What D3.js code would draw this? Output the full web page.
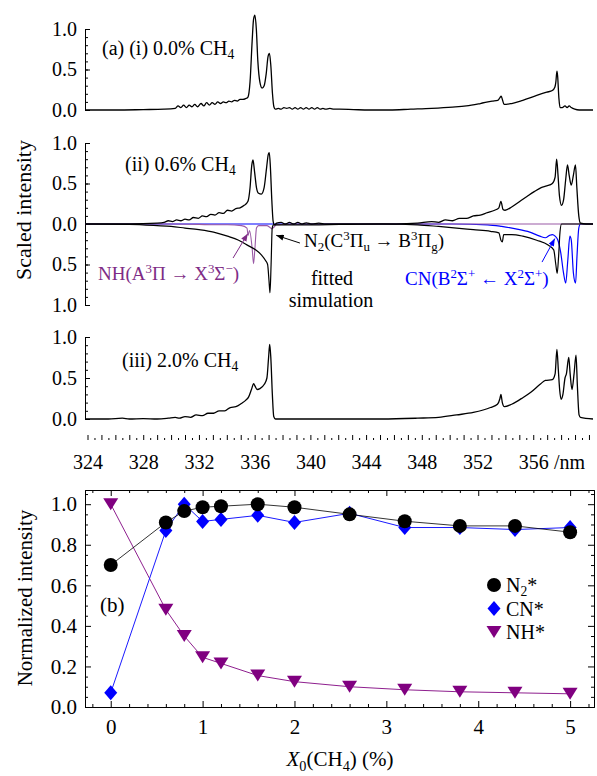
<!DOCTYPE html>
<html>
<head>
<meta charset="utf-8">
<script src="https://cdn.jsdelivr.net/npm/d3@7"></script>
<style>
  body { margin: 0; background: #fff; }
  svg, svg text { font-family: "Times New Roman", Times, "Liberation Serif", Tinos, "Noto Serif", "DejaVu Serif", serif; }
</style>
</head>
<body>
<div id="chart"></div>
<script>
const FRAME_WIDTH = 597;
const FRAME_HEIGHT = 776;
const FONT = "'Times New Roman', Times, 'Liberation Serif', Tinos, 'Noto Serif', 'DejaVu Serif', serif";

// ---- spectra (wavelength in nm, scaled intensity) ----
// (i) 0.0% CH4, measured
const SPEC_I = [[323.82,0],[326.0,0],[328.0,0.005],[329.5,0.01],[330.3,0.02],[330.5,0.05],[330.7,0.03],[330.9,0.06],
  [331.1,0.03],[331.3,0.06],[331.5,0.04],[331.7,0.07],[331.9,0.04],[332.15,0.08],[332.35,0.05],[332.55,0.09],
  [332.75,0.06],[332.95,0.09],[333.15,0.07],[333.35,0.10],[333.55,0.08],[333.75,0.10],[333.95,0.09],[334.15,0.11],
  [334.35,0.10],[334.55,0.12],[334.75,0.11],[334.95,0.13],[335.15,0.13],[335.35,0.14],[335.52,0.16],[335.67,0.35],
  [335.82,0.85],[335.92,1.12],[336.02,1.17],[336.12,1.0],[336.23,0.6],[336.38,0.34],[336.53,0.27],[336.68,0.3],
  [336.83,0.45],[336.96,0.66],[337.06,0.70],[337.16,0.55],[337.28,0.2],[337.38,0.04],[337.48,0.01],[337.7,0.02],
  [337.9,0.01],[338.1,0.03],[338.3,0.02],[338.5,0.03],[338.7,0.01],[338.9,0.03],[339.1,0.01],[339.3,0.03],
  [339.5,0.01],[339.7,0.03],[339.9,0.01],[340.1,0.03],[340.3,0.01],[340.5,0.03],[340.7,0.01],[340.9,0.02],
  [341.1,0.01],[341.4,0.02],[341.7,0.01],[342.1,0.01],[343.1,0.005],[344.2,0],[345.7,0],[347.2,0.01],
  [348.7,0.02],[350.2,0.035],[351.2,0.05],[352.2,0.08],[353.05,0.11],[353.45,0.12],[353.6,0.15],[353.7,0.17],
  [353.8,0.12],[353.9,0.07],[354.05,0.07],[354.45,0.08],[355.25,0.12],[356.25,0.18],[356.97,0.22],[357.37,0.24],
  [357.55,0.28],[357.62,0.34],[357.70,0.48],[357.75,0.42],[357.84,0.15],[357.93,0.03],[358.08,0.03],[358.28,0.05],
  [358.43,0.03],[358.58,0.05],[358.73,0.03],[358.98,0.01],[359.3,0],[360.29,0]];

// (ii) 0.6% CH4, measured
const SPEC_II = [[323.82,0],[327.0,0],[329.0,0.01],[329.5,0.02],[329.8,0.04],[330.1,0.03],[330.4,0.05],[330.7,0.04],
  [331.0,0.06],[331.3,0.05],[331.6,0.08],[331.95,0.07],[332.25,0.10],[332.55,0.09],[332.85,0.12],[333.15,0.11],
  [333.45,0.14],[333.75,0.13],[334.05,0.17],[334.35,0.16],[334.65,0.19],[334.95,0.20],[335.25,0.23],[335.52,0.28],
  [335.67,0.45],[335.79,0.72],[335.88,0.79],[335.99,0.65],[336.13,0.45],[336.28,0.38],[336.48,0.37],[336.68,0.45],
  [336.86,0.7],[336.98,0.86],[337.05,0.88],[337.13,0.7],[337.23,0.3],[337.33,0.03],[337.43,-0.01],[337.58,0.01],
  [337.9,0.02],[338.2,0],[338.5,0.02],[338.8,0],[339.1,0.02],[339.4,0],[339.7,0.015],[340.1,0],[340.6,0.01],
  [341.1,0],[343.1,0],[346.15,0],[347.7,0.01],[348.7,0.03],[349.2,0.02],[349.7,0.05],[350.2,0.04],[350.7,0.07],
  [351.2,0.07],[351.7,0.1],[352.2,0.11],[352.7,0.14],[353.23,0.17],[353.53,0.2],[353.68,0.28],[353.83,0.18],
  [353.98,0.17],[354.45,0.21],[355.05,0.28],[355.55,0.34],[356.07,0.40],[356.57,0.45],[356.97,0.47],[357.37,0.50],
  [357.57,0.58],[357.68,0.8],[357.78,0.6],[357.88,0.35],[358.03,0.23],[358.18,0.3],[358.33,0.55],[358.46,0.73],
  [358.58,0.6],[358.73,0.48],[358.88,0.6],[359.03,0.73],[359.13,0.45],[359.27,0.1],[359.39,0.01],[359.8,0],[360.29,0]];

// (ii) fitted simulation, drawn downward
const SIM_N2 = [[323.82,0],[327,-0.005],[329,-0.02],[330,-0.03],[331,-0.05],[332,-0.07],[333.05,-0.1],[334.05,-0.15],
  [334.85,-0.2],[335.57,-0.27],[336.08,-0.32],[336.48,-0.38],[336.78,-0.45],[336.93,-0.5],[337.03,-0.7],[337.1,-0.85],
  [337.18,-0.5],[337.26,-0.05],[337.35,-0.01],[338.1,-0.01],[340.1,-0.01],[342.1,-0.005],[345.15,0],[347.7,-0.01],
  [349.2,-0.03],[350.5,-0.05],[351.7,-0.07],[352.93,-0.09],[353.53,-0.11],[353.68,-0.2],[353.78,-0.22],[353.88,-0.13],
  [354.45,-0.13],[355.25,-0.15],[356.25,-0.2],[357.07,-0.26],[357.47,-0.32],[357.62,-0.5],[357.72,-0.61],[357.82,-0.4],
  [357.92,-0.1],[358.03,0],[360.29,0]];
const SIM_NH = [[323.82,0],[330,0],[332,-0.005],[333.05,-0.01],[334.05,-0.01],[335.05,-0.02],[335.45,-0.05],[335.53,-0.14],
  [335.63,-0.08],[335.82,-0.3],[335.92,-0.49],[336.02,-0.3],[336.13,-0.05],[336.28,-0.02],[336.88,-0.02],[337.08,-0.04],
  [337.23,-0.06],[337.38,-0.04],[337.58,-0.01],[338.1,-0.005],[339.1,0],[360.29,0]];
const SIM_CN = [[323.82,0],[350.2,0],[352.73,-0.01],[353.73,-0.03],[354.75,-0.06],[355.75,-0.1],[356.47,-0.15],[356.87,-0.17],
  [357.17,-0.14],[357.37,-0.13],[357.57,-0.15],[357.77,-0.2],[357.97,-0.35],[358.17,-0.6],[358.33,-0.73],[358.48,-0.45],
  [358.63,-0.15],[358.73,-0.2],[358.88,-0.6],[359.04,-0.73],[359.14,-0.4],[359.27,-0.05],[359.39,0],[360.29,0]];

// (iii) 2.0% CH4, measured
const SPEC_III = [[323.82,0],[325.5,0],[326.5,0.01],[327,0],[328,0.005],[329,0],[329.8,0.01],[330.3,0.02],[330.6,0.01],
  [331.0,0.03],[331.4,0.02],[331.8,0.05],[332.25,0.04],[332.65,0.07],[333.05,0.07],[333.45,0.1],[333.85,0.1],[334.25,0.14],
  [334.65,0.15],[335.05,0.19],[335.37,0.23],[335.57,0.27],[335.77,0.36],[335.93,0.43],[336.03,0.40],[336.18,0.36],
  [336.38,0.37],[336.68,0.42],[336.88,0.5],[337.0,0.75],[337.08,0.91],[337.16,0.75],[337.27,0.3],[337.37,0.03],
  [337.49,0],[338.6,0],[342.1,0],[345.15,0],[347.7,0.01],[349.2,0.02],[350.5,0.05],[351.7,0.08],[352.93,0.14],
  [353.43,0.18],[353.61,0.25],[353.68,0.30],[353.78,0.2],[353.93,0.15],[354.45,0.18],[355.25,0.26],[355.85,0.33],
  [356.47,0.42],[356.87,0.47],[357.37,0.48],[357.57,0.55],[357.7,0.85],[357.8,0.6],[357.9,0.35],[358.0,0.24],
  [358.13,0.3],[358.28,0.5],[358.38,0.55],[358.55,0.75],[358.65,0.55],[358.78,0.36],[358.93,0.55],[359.07,0.78],
  [359.17,0.4],[359.29,0.05],[359.39,0.02],[360.29,0]];

const SPEC_X_LABELS = [324, 328, 332, 336, 340, 344, 348, 352, 356];

// ---- panel (b) ----
const X0_CH4 = [0, 0.6, 0.8, 1.0, 1.2, 1.6, 2.0, 2.6, 3.2, 3.8, 4.4, 5.0];
const N2_STAR = [0.70, 0.91, 0.966, 0.985, 0.99, 1.0, 0.985, 0.95, 0.916, 0.893, 0.893, 0.862];
const CN_STAR = [0.07, 0.87, 1.0, 0.915, 0.925, 0.945, 0.91, 0.955, 0.885, 0.885, 0.875, 0.885];
const NH_STAR = [1.0, 0.48, 0.35, 0.245, 0.215, 0.155, 0.125, 0.10, 0.085, 0.075, 0.07, 0.065];
const B_X_TICKS = [0, 1, 2, 3, 4, 5];
const B_Y_TICKS = [0, 0.2, 0.4, 0.6, 0.8, 1.0];

const BLUE = "#0000ff";
const PURPLE = "#800080";
const NH_TEXT = "#7e2c86";

const SVG = d3.select("#chart").append("svg")
    .attr("width", FRAME_WIDTH)
    .attr("height", FRAME_HEIGHT)
    .attr("font-family", FONT);

// arrow heads
const DEFS = SVG.append("defs");
[["arrK", "#000"], ["arrB", BLUE], ["arrP", NH_TEXT]].forEach(([id, c]) => {
  DEFS.append("marker").attr("id", id)
      .attr("viewBox", "0 0 10 8").attr("refX", 10).attr("refY", 4)
      .attr("markerWidth", 8).attr("markerHeight", 6).attr("markerUnits", "userSpaceOnUse")
      .attr("orient", "auto")
    .append("path").attr("d", "M0,0L10,4L0,8Z").attr("fill", c);
});

// text with sub/superscripts: parts = [[str, kind]]
function rich(sel, x, y, parts, size, color, anchor) {
  const t = sel.append("text").attr("x", x).attr("y", y)
      .attr("font-family", FONT)
      .attr("font-size", size).attr("fill", color || "#000")
      .attr("text-anchor", anchor || "start");
  let shift = 0;
  parts.forEach(([s, k]) => {
    const ts = t.append("tspan").text(s);
    const target = k === "sub" ? 0.22 * size : k === "sup" ? -0.36 * size : 0;
    ts.attr("dy", target - shift);
    shift = target;
    if (k === "sub" || k === "sup") ts.attr("font-size", size * 0.68);
    if (k === "i") ts.attr("font-style", "italic");
  });
  return t;
}

// ===== top: spectra =====
const X_SPEC = d3.scaleLinear().domain([323.82, 360.29]).range([85, 593]);
const Y_I = d3.scaleLinear().domain([0, 1]).range([110, 29]);
const Y_II = d3.scaleLinear().domain([-1, 1]).range([305, 143]);
const Y_III = d3.scaleLinear().domain([0, 1]).range([419, 337]);

function yAxisSpec(yScale, lo) {
  const g = SVG.append("g").attr("transform", "translate(85,0)");
  g.call(d3.axisLeft(yScale).tickValues(d3.range(lo, 1.0001, 0.1)).tickSizeInner(-3).tickSizeOuter(0).tickFormat(""));
  const m = SVG.append("g").attr("transform", "translate(85,0)");
  m.call(d3.axisLeft(yScale).tickValues(d3.range(lo, 1.0001, 0.5)).tickSizeInner(-5).tickSizeOuter(0).tickPadding(8)
      .tickFormat(d => d3.format(".1f")(Math.abs(d))));
  [g, m].forEach(a => {
    a.attr("font-family", FONT).attr("font-size", 20);
    a.selectAll("path,line").attr("stroke", "#000").attr("stroke-width", 1);
    a.selectAll("text").attr("fill", "#000");
  });
}
yAxisSpec(Y_I, 0);
yAxisSpec(Y_II, -1);
yAxisSpec(Y_III, 0);

// shared wavelength axis (ticks only)
const XA = SVG.append("g").attr("transform", "translate(0,440)");
XA.append("g").call(d3.axisBottom(X_SPEC).tickValues(d3.range(324.5, 360, 1)).tickSizeInner(-2).tickSizeOuter(0).tickFormat(""));
XA.append("g").call(d3.axisBottom(X_SPEC).tickValues(d3.range(324, 360.5, 1)).tickSizeInner(-5).tickSizeOuter(0)
    .tickPadding(15).tickFormat(d => SPEC_X_LABELS.includes(d) ? d : ""));
XA.selectAll(".domain").remove();
XA.selectAll("g").attr("font-family", FONT).attr("font-size", 20);
XA.selectAll("line").attr("stroke", "#000");
XA.selectAll("text").attr("fill", "#000");
SVG.append("text").attr("x", 554).attr("y", 469).attr("font-size", 20).attr("font-family", FONT).text("/nm");

function specLine(data, yScale, color, w) {
  SVG.append("path").datum(data)
      .attr("fill", "none").attr("stroke", color).attr("stroke-width", w)
      .attr("stroke-linejoin", "round")
      .attr("d", d3.line().x(d => X_SPEC(d[0])).y(d => yScale(d[1])).curve(d3.curveMonotoneX));
}
specLine(SPEC_I, Y_I, "#000", 1.3);
specLine(SIM_CN, Y_II, BLUE, 1.2);
specLine(SIM_NH, Y_II, "#9a5aa6", 1.1);
specLine(SIM_N2, Y_II, "#000", 1.2);
specLine(SPEC_II, Y_II, "#000", 1.3);
specLine(SPEC_III, Y_III, "#000", 1.3);

// panel labels
rich(SVG, 102, 55, [["(a) (i) 0.0% CH"], ["4", "sub"]], 20);
rich(SVG, 125, 171, [["(ii) 0.6% CH"], ["4", "sub"]], 20);
rich(SVG, 122, 367, [["(iii) 2.0% CH"], ["4", "sub"]], 20);

// annotations (ii)
function arrow(from, to, color, id) {
  SVG.append("line")
      .attr("x1", X_SPEC(from[0])).attr("y1", Y_II(from[1]))
      .attr("x2", X_SPEC(to[0])).attr("y2", Y_II(to[1]))
      .attr("stroke", color).attr("stroke-width", 1)
      .attr("marker-end", "url(#" + id + ")");
}
arrow([334.45, -0.42], [335.5, -0.12], NH_TEXT, "arrP");
arrow([339.25, -0.235], [337.55, -0.14], "#000", "arrK");
arrow([356.63, -0.47], [357.55, -0.18], BLUE, "arrB");

rich(SVG, 98, 280, [["NH(A"], ["3", "sup"], ["Π → X"], ["3", "sup"], ["Σ"], ["−", "sup"], [")"]], 19, NH_TEXT);
rich(SVG, 304, 247, [["N"], ["2", "sub"], ["(C"], ["3", "sup"], ["Π"], ["u", "sub"], [" → B"], ["3", "sup"], ["Π"], ["g", "sub"], [")"]], 19);
rich(SVG, 332, 285, [["fitted"]], 20, "#000", "middle");
rich(SVG, 331, 307, [["simulation"]], 20, "#000", "middle");
rich(SVG, 405, 285, [["CN(B"], ["2", "sup"], ["Σ"], ["+", "sup"], [" ← X"], ["2", "sup"], ["Σ"], ["+", "sup"], [")"]], 19, BLUE);

SVG.append("text").attr("transform", "translate(31,210) rotate(-90)").attr("font-family", FONT)
    .attr("text-anchor", "middle").attr("font-size", 22).text("Scaled intensity");

// ===== bottom: panel (b) =====
const X_B = d3.scaleLinear().domain([-0.28, 5.26]).range([85, 594]);
const Y_B = d3.scaleLinear().domain([0, 1.07]).range([707, 490]);

function frameAxis(gen, tx, ty) {
  const g = SVG.append("g").attr("transform", `translate(${tx},${ty})`).call(gen);
  g.attr("font-family", FONT).attr("font-size", 21);
  g.selectAll("path,line").attr("stroke", "#000").attr("stroke-width", 1);
  g.selectAll("text").attr("fill", "#000");
  return g;
}
const xMinor = d3.range(-0.2, 5.21, 0.2).filter(v => Math.abs(v - Math.round(v)) > 0.01);
const yMinor = d3.range(0.05, 1.07, 0.05).filter(v => Math.abs(v * 5 - Math.round(v * 5)) > 0.01);
frameAxis(d3.axisBottom(X_B).tickValues(xMinor).tickSizeInner(-3).tickSizeOuter(0).tickFormat(""), 0, 707);
frameAxis(d3.axisTop(X_B).tickValues(xMinor).tickSizeInner(-3).tickSizeOuter(0).tickFormat(""), 0, 490);
frameAxis(d3.axisLeft(Y_B).tickValues(yMinor).tickSizeInner(-3).tickSizeOuter(0).tickFormat(""), 85, 0);
frameAxis(d3.axisRight(Y_B).tickValues(yMinor).tickSizeInner(-3).tickSizeOuter(0).tickFormat(""), 594, 0);
frameAxis(d3.axisBottom(X_B).tickValues(B_X_TICKS).tickSizeInner(-6).tickSizeOuter(0).tickPadding(12).tickFormat(d3.format("d")), 0, 707);
frameAxis(d3.axisTop(X_B).tickValues(B_X_TICKS).tickSizeInner(-6).tickSizeOuter(0).tickFormat(""), 0, 490);
frameAxis(d3.axisLeft(Y_B).tickValues(B_Y_TICKS).tickSizeInner(-6).tickSizeOuter(0).tickPadding(8).tickFormat(d3.format(".1f")), 85, 0);
frameAxis(d3.axisRight(Y_B).tickValues(B_Y_TICKS).tickSizeInner(-6).tickSizeOuter(0).tickFormat(""), 594, 0);

const SERIES = [
  { vals: NH_STAR, color: PURPLE, line: "#8e1f8e", shape: "tri" },
  { vals: CN_STAR, color: BLUE, line: "#1a1aff", shape: "dia" },
  { vals: N2_STAR, color: "#000", line: "#000", shape: "circ" }
];
const SHAPES = {
  tri: "M-7.5,-6L7.5,-6L0,6Z",
  dia: "M0,-7.5L6.5,0L0,7.5L-6.5,0Z",
  circ: d3.symbol(d3.symbolCircle, Math.PI * 49)()
};

SERIES.forEach(s => {
  const pts = X0_CH4.map((x, i) => [x, s.vals[i]]);
  SVG.append("path").datum(pts)
      .attr("fill", "none").attr("stroke", s.line).attr("stroke-width", s.shape === "circ" ? 0.8 : 1)
      .attr("d", d3.line().x(d => X_B(d[0])).y(d => Y_B(d[1])));
});
SERIES.forEach(s => {
  SVG.append("g").selectAll("path")
      .data(X0_CH4.map((x, i) => [x, s.vals[i]]))
      .enter().append("path")
      .attr("d", SHAPES[s.shape])
      .attr("transform", d => `translate(${X_B(d[0])},${Y_B(d[1])})`)
      .attr("fill", s.color);
});

// legend
const LEG = [
  { shape: "circ", color: "#000", parts: [["N"], ["2", "sub"], ["*"]] },
  { shape: "dia", color: BLUE, parts: [["CN*"]] },
  { shape: "tri", color: PURPLE, parts: [["NH*"]] }
];
LEG.forEach((l, i) => {
  const y = 585 + i * 23.5;
  SVG.append("path").attr("d", SHAPES[l.shape]).attr("transform", `translate(494,${y})`).attr("fill", l.color);
  rich(SVG, 506, y + 7, l.parts, 20);
});

rich(SVG, 100, 612, [["(b)"]], 21);
rich(SVG, 340, 766, [["X", "i"], ["0", "sub"], ["(CH"], ["4", "sub"], [") (%)"]], 21, "#000", "middle");
SVG.append("text").attr("transform", "translate(32,598) rotate(-90)").attr("font-family", FONT)
    .attr("text-anchor", "middle").attr("font-size", 21).text("Normalized intensity");
</script>
</body>
</html>
